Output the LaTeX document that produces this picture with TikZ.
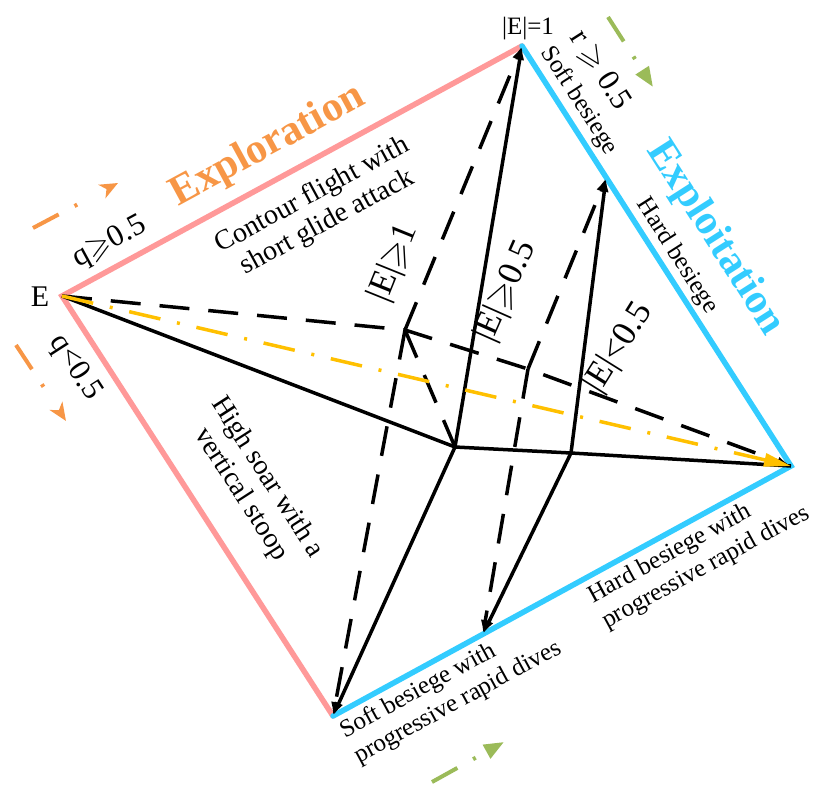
\documentclass[tikz,border=0pt]{standalone}
\usepackage{fontspec}
\usepackage{amssymb}
\setmainfont{Liberation Serif}
\usetikzlibrary{arrows.meta}
\definecolor{pinkE}{HTML}{FF9999}
\definecolor{blueE}{HTML}{33CCFF}
\definecolor{orangeT}{HTML}{F79646}
\definecolor{goldL}{HTML}{FFC000}
\definecolor{greenA}{HTML}{9BBB59}
\begin{document}
\begin{tikzpicture}[x=1pt,y=-1pt,
  edgeP/.style={draw=pinkE,line width=5.5pt,line cap=round},
  edgeB/.style={draw=blueE,line width=5.5pt,line cap=round},
  solidL/.style={draw=black,line width=3.5pt,line join=round},
  dashL/.style={draw=black,line width=3.5pt,dash pattern=on 30pt off 19pt},
  tipA/.style={-{Latex[length=14pt,width=9pt]}},
  goldLine/.style={draw=goldL,line width=3.5pt,dash pattern=on 32pt off 17pt on 3pt off 17pt,-{Triangle[length=27pt,width=13pt]}},
  smallArrO/.style={draw=orangeT,line width=4pt,dash pattern=on 29pt off 18pt on 3pt off 60pt,-{Stealth[length=18pt,width=15pt,inset=5pt]}},
  smallArrG/.style={draw=greenA,line width=4pt,dash pattern=on 29pt off 18pt on 3pt off 60pt,-{Triangle[length=20pt,width=15pt]}},
  lbl/.style={font=\fontsize{28}{31}\selectfont,inner sep=0pt},
  botLbl/.style={font=\fontsize{25}{29}\selectfont,inner sep=0pt},
  smallLbl/.style={font=\fontsize{25}{28}\selectfont,inner sep=0pt},
  condLbl/.style={font=\fontsize{31}{34}\selectfont,inner sep=0pt},
  eLbl/.style={font=\fontsize{35}{38}\selectfont,inner sep=0pt},
  bigLbl/.style={font=\fontsize{42}{46}\selectfont\bfseries,inner sep=0pt},
]
\useasboundingbox (0,0) rectangle (817,785);
% vertices
\coordinate (E) at (62,296);
\coordinate (T) at (522,46);
\coordinate (R) at (791,466);
\coordinate (B) at (333,716);
\coordinate (P1) at (606,178);
\coordinate (P2) at (483,634);
\coordinate (C1) at (455,447);
\coordinate (C2) at (571,453);
\coordinate (D1) at (405,330);
\coordinate (D2) at (528,369);
% outer edges
\draw[edgeP] (B) -- (E) -- (T);
\draw[edgeB] (T) -- (R) -- (B);
% solid structure
\draw[solidL] (E) -- (C1) -- (C2) -- (R);
\draw[solidL,tipA] (C1) -- (T);
\draw[solidL,tipA] (C1) -- (B);
\draw[solidL,tipA] (C2) -- (P1);
\draw[solidL,tipA] (C2) -- (P2);
% dashed structure
\draw[dashL,tipA] (E) -- (D1) -- (D2) -- (R);
\draw[dashL,tipA] (D1) -- (T);
\draw[dashL,tipA] (D1) -- (B);
\draw[dashL] (D1) -- (C1);
\draw[dashL,tipA] (D2) -- (P1);
\draw[dashL,tipA] (D2) -- (P2);
% gold dash-dot
\draw[goldLine] (E) -- (R);
% small direction arrows
\coordinate (o1s) at (33,228); \coordinate (o1e) at (118,183);
\coordinate (o2s) at (16,345); \coordinate (o2e) at (66,421);
\coordinate (g1s) at (608,17); \coordinate (g1e) at (653,87);
\coordinate (g2s) at (432,782); \coordinate (g2e) at (504,742);
\draw[smallArrO] (o1s) -- (o1e);
\draw[smallArrO] (o2s) -- (o2e);
\draw[smallArrG] (g1s) -- (g1e);
\draw[smallArrG] (g2s) -- (g2e);
% labels
\node[font=\fontsize{30}{32}\selectfont,inner sep=0pt] (lE) at (40,297) {E};
\node[smallLbl] (lT) at (528,29) {|E|=1};
\node[bigLbl,text=orangeT,rotate=28.5] (lExpl) at (268,146) {Exploration};
\node[bigLbl,text=blueE,rotate=-57.4] (lExpt) at (715,238) {Exploitation};
\node[condLbl,rotate=28.5] (lq1) at (110,243) {q$\geqslant$0.5};
\node[condLbl,rotate=-57.2] (lq2) at (75,368) {q<0.5};
\node[condLbl,rotate=-57.4] (lr) at (600,70) {r $\geqslant$ 0.5};
\node[lbl,rotate=28.5,align=center] (lCont) at (320,209) {Contour flight with\\short glide attack};
\node[lbl,rotate=-57.2,align=center] (lHigh) at (254,486) {High soar with a\\vertical stoop};
\node[smallLbl,rotate=-57.4] (lSoft) at (579,101) {Soft besiege};
\node[smallLbl,rotate=-57.4] (lHard) at (677,256) {Hard besiege};
\node[botLbl,rotate=28.6,align=left] (lSoftW) at (451,690) {Soft besiege with\\progressive rapid dives};
\node[botLbl,rotate=28.6,align=left] (lHardW) at (699,555) {Hard besiege with\\progressive rapid dives};
\node[eLbl,rotate=68] (lE1) at (394,263) {|E|$\geqslant$1};
\node[eLbl,rotate=66] (lE05) at (506,292) {|E|$\geqslant$0.5};
\node[eLbl,rotate=58] (lE05b) at (619,348) {|E|<0.5};
\end{tikzpicture}
\end{document}
